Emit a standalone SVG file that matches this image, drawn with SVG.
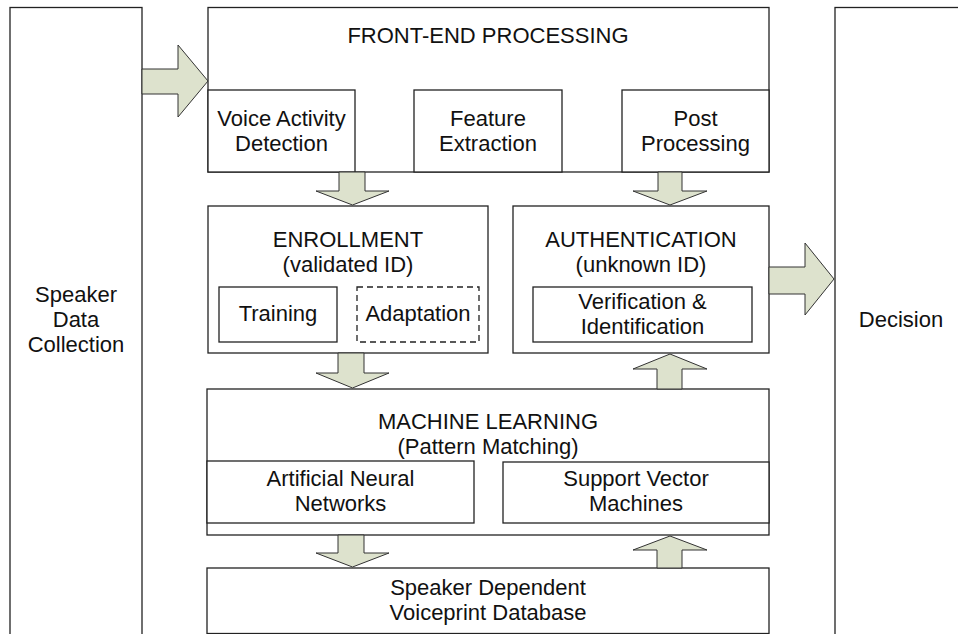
<svg xmlns="http://www.w3.org/2000/svg" width="958" height="634" viewBox="0 0 958 634">
  <style>
    .box { fill: #ffffff; stroke: #222222; stroke-width: 1.3; }
    .dash { fill: #ffffff; stroke: #222222; stroke-width: 1.3; stroke-dasharray: 6 4; }
    .arrow { fill: #dde2cd; stroke: #333333; stroke-width: 1; stroke-linejoin: miter; }
    text { font-family: "Liberation Sans", Arial, sans-serif; font-size: 22px; fill: #111111; text-anchor: middle; }
  </style>
  <rect width="958" height="634" fill="#ffffff"/>

  <!-- outer input / output columns -->
  <g id="speaker-data-collection">
    <rect class="box" x="10" y="7.5" width="132" height="640"/>
    <text x="76" y="302">Speaker</text>
    <text x="76" y="327">Data</text>
    <text x="76" y="352">Collection</text>
  </g>
  <g id="decision">
    <rect class="box" x="835" y="7.5" width="140" height="640"/>
    <text x="901" y="327">Decision</text>
  </g>

  <!-- front-end processing stage -->
  <g id="front-end">
    <rect class="box" x="208" y="7.5" width="561" height="164.5"/>
    <text x="488" y="43">FRONT-END PROCESSING</text>
  </g>
  <g id="voice-activity-detection">
    <rect class="box" x="208" y="90" width="147" height="82"/>
    <text x="281.5" y="126">Voice Activity</text>
    <text x="281.5" y="151">Detection</text>
  </g>
  <g id="feature-extraction">
    <rect class="box" x="414" y="90" width="148" height="82"/>
    <text x="488" y="126">Feature</text>
    <text x="488" y="151">Extraction</text>
  </g>
  <g id="post-processing">
    <rect class="box" x="622" y="90" width="147" height="82"/>
    <text x="695.5" y="126">Post</text>
    <text x="695.5" y="151">Processing</text>
  </g>

  <!-- enrollment stage -->
  <g id="enrollment">
    <rect class="box" x="208" y="206" width="280" height="147"/>
    <text x="348" y="247">ENROLLMENT</text>
    <text x="348" y="272">(validated ID)</text>
  </g>
  <g id="training">
    <rect class="box" x="219" y="287" width="118" height="55"/>
    <text x="278" y="321">Training</text>
  </g>
  <g id="adaptation">
    <rect class="dash" x="357" y="287" width="122" height="55"/>
    <text x="418" y="321">Adaptation</text>
  </g>

  <!-- authentication stage -->
  <g id="authentication">
    <rect class="box" x="513" y="206" width="256" height="147"/>
    <text x="641" y="247">AUTHENTICATION</text>
    <text x="641" y="272">(unknown ID)</text>
  </g>
  <g id="verification-identification">
    <rect class="box" x="533" y="287" width="219" height="55"/>
    <text x="642.5" y="309">Verification &amp;</text>
    <text x="642.5" y="334">Identification</text>
  </g>

  <!-- machine learning stage -->
  <g id="machine-learning">
    <rect class="box" x="207" y="389" width="562" height="146"/>
    <text x="488" y="429">MACHINE LEARNING</text>
    <text x="488" y="454">(Pattern Matching)</text>
  </g>
  <g id="artificial-neural-networks">
    <rect class="box" x="207" y="461" width="267" height="62"/>
    <text x="340.5" y="486">Artificial Neural</text>
    <text x="340.5" y="511">Networks</text>
  </g>
  <g id="support-vector-machines">
    <rect class="box" x="503" y="462" width="266" height="61"/>
    <text x="636" y="486">Support Vector</text>
    <text x="636" y="511">Machines</text>
  </g>

  <!-- model storage -->
  <g id="voiceprint-database">
    <rect class="box" x="207" y="568" width="562" height="65.5"/>
    <text x="488" y="595">Speaker Dependent</text>
    <text x="488" y="620">Voiceprint Database</text>
  </g>

  <!-- block arrows between stages -->
  <g id="connectors">
    <polygon class="arrow" points="142,69 178,69 178,45 208,81 178,117 178,94 142,94"/>
    <polygon class="arrow" points="339,172 365,172 365,191 389,191 352.5,205 316,191 339,191"/>
    <polygon class="arrow" points="658,172 682,172 682,191 707,191 670,205 633,191 658,191"/>
    <polygon class="arrow" points="769,267 805,267 805,243 834,279 805,315 805,294 769,294"/>
    <polygon class="arrow" points="338,353 364,353 364,373 389,373 352.5,388 316,373 338,373"/>
    <polygon class="arrow" points="657,389 682,389 682,369 707,369 670,354 633,369 657,369"/>
    <polygon class="arrow" points="338,535 364,535 364,553 389,553 352.5,567 316,553 338,553"/>
    <polygon class="arrow" points="657,568 682,568 682,550 707,550 670,536 633,550 657,550"/>
  </g>
</svg>
